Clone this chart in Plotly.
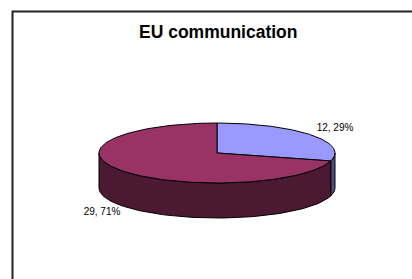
import numpy as np
import plotly.graph_objects as go

# Data
categories = ["Blue", "Maroon"]
values = [12, 29]
labels = ["12, 29%", "29, 71%"]
top_colors = ["#9999FF", "#993366"]
side_colors = ["#4D4D80", "#4C1933"]
title_text = "EU communication"

W, H = 412, 279
cx, cy, a, b, depth = 217, 153, 118, 30, 35

def pt(theta_deg, dy=0.0):
    t = np.radians(theta_deg)
    return cx + a * np.sin(t), cy - b * np.cos(t) + dy

total = sum(values)
fracs = [v / total for v in values]
bounds = [0.0]
for f in fracs:
    bounds.append(bounds[-1] + f * 360)

fig = go.Figure()

# side walls (visible front half: 90..270 deg clockwise from top)
for i in range(len(values)):
    s, e = max(bounds[i], 90), min(bounds[i + 1], 270)
    if e <= s:
        continue
    th = np.linspace(s, e, 80)
    xs_top, ys_top = pt(th)
    xs_bot, ys_bot = pt(th[::-1], depth)
    xs = np.concatenate([xs_top, xs_bot, xs_top[:1]])
    ys = np.concatenate([ys_top, ys_bot, ys_top[:1]])
    fig.add_trace(go.Scatter(x=xs, y=ys, mode="lines", fill="toself",
                             fillcolor=side_colors[i],
                             line=dict(color="black", width=1),
                             hoverinfo="skip", showlegend=False))

# top faces
for i in range(len(values)):
    th = np.linspace(bounds[i], bounds[i + 1], 160)
    xs_arc, ys_arc = pt(th)
    xs = np.concatenate([[cx], xs_arc, [cx]])
    ys = np.concatenate([[cy], ys_arc, [cy]])
    fig.add_trace(go.Scatter(x=xs, y=ys, mode="lines", fill="toself",
                             fillcolor=top_colors[i],
                             line=dict(color="black", width=1),
                             hoverinfo="skip", showlegend=False))

# data labels
label_pos = [(335, 128), (102, 212)]
fig.add_trace(go.Scatter(x=[p[0] for p in label_pos], y=[p[1] for p in label_pos],
                         mode="text", text=labels,
                         textfont=dict(family="Liberation Sans, Arial", size=10, color="#000000"),
                         hoverinfo="skip", showlegend=False))

fig.add_annotation(x=218, y=32, text="<b>" + title_text + "</b>", showarrow=False,
                   xref="x", yref="y",
                   font=dict(family="Liberation Sans, Arial", size=17.5, color="#000000"))

fig.add_shape(type="rect", x0=12.5, y0=11.5, x1=W + 20, y1=H + 20,
              xref="x", yref="y", line=dict(color="#222222", width=2))

fig.update_layout(width=W, height=H, margin=dict(l=0, r=0, t=0, b=0),
                  paper_bgcolor="white", plot_bgcolor="white",
                  xaxis=dict(range=[0, W], visible=False, fixedrange=True),
                  yaxis=dict(range=[H, 0], visible=False, fixedrange=True))

fig.write_html("out.html",
               config={"displayModeBar": False},
               post_script="document.body.style.margin='0px';document.body.style.overflow='hidden';")
